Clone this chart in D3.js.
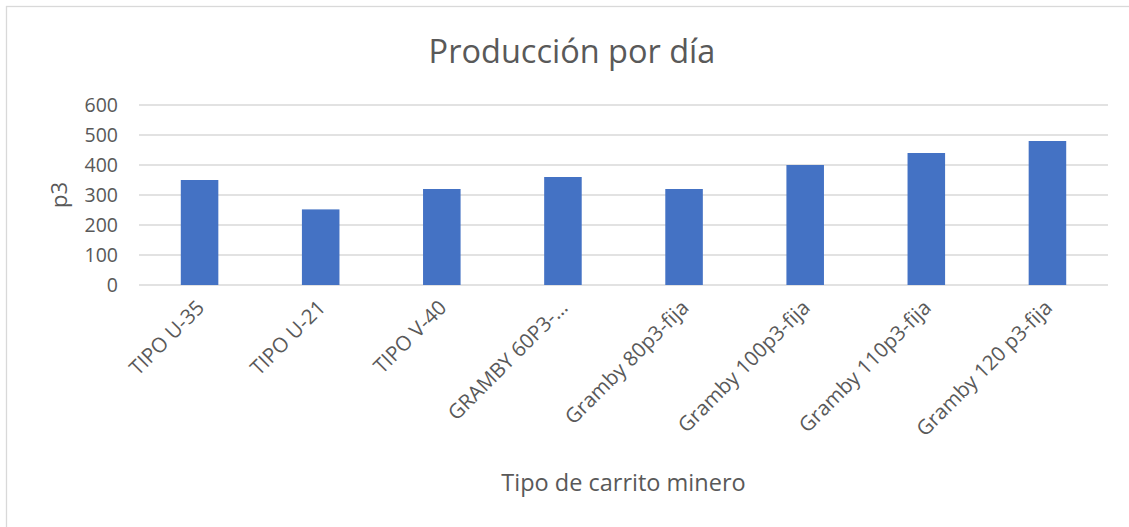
<!DOCTYPE html>
<html>
<head>
<meta charset="utf-8">
<script src="https://cdn.jsdelivr.net/npm/d3@7"></script>
<style>
    body { margin: 0; background: #fff; }
    svg { display: block; font-family: 'Open Sans', sans-serif; }
</style>
</head>
<body>
<div id="chart"></div>
<script>
// Chart data
const categories = ['TIPO U-35', 'TIPO U-21', 'TIPO V-40', 'GRAMBY 60P3-…',
    'Gramby 80p3-fija', 'Gramby 100p3-fija', 'Gramby 110p3-fija', 'Gramby 120 p3-fija'];
const values = [350, 252, 320, 360, 320, 400, 440, 480];
const yTicks = [0, 100, 200, 300, 400, 500, 600];

const W = 1129, H = 527;
const margin = {top: 105, right: 21, bottom: 242, left: 139};
const width = W - margin.left - margin.right;
const height = H - margin.top - margin.bottom;
const textColor = '#595959';

const svg = d3.select('#chart')
    .append('svg')
    .attr('width', W)
    .attr('height', H);

// Chart area border
svg.append('rect')
    .attr('x', 6.5)
    .attr('y', 6.5)
    .attr('width', W + 20)
    .attr('height', H + 20)
    .style('fill', 'none')
    .style('stroke', '#d9d9d9')
    .style('stroke-width', 1.3);

const g = svg.append('g')
    .attr('transform', `translate(${margin.left},${margin.top})`);

const xScale = d3.scaleBand()
    .domain(categories)
    .range([0, width])
    .paddingInner(0.69)
    .paddingOuter(0.345);

const yScale = d3.scaleLinear()
    .domain([0, 600])
    .range([height, 0]);

// Gridlines
g.selectAll('.grid')
    .data(yTicks)
    .enter().append('line')
    .attr('x1', 0)
    .attr('x2', width)
    .attr('y1', d => yScale(d))
    .attr('y2', d => yScale(d))
    .style('stroke', '#d9d9d9')
    .style('stroke-width', 1.3);

// Bars
g.selectAll('.bar')
    .data(values)
    .enter().append('rect')
    .attr('x', (d, i) => xScale(categories[i]))
    .attr('y', d => yScale(d))
    .attr('width', xScale.bandwidth())
    .attr('height', d => yScale(0) - yScale(d))
    .style('fill', '#4472c4');

// Y axis labels
const yAxis = g.append('g')
    .call(d3.axisLeft(yScale).tickValues(yTicks).tickSize(0).tickPadding(21));
yAxis.select('.domain').remove();
yAxis.selectAll('text')
    .style('font-size', '19.5px')
    .style('font-family', "'Open Sans', sans-serif")
    .style('fill', textColor);

// X axis labels (rotated)
g.selectAll('.xlabel')
    .data(categories)
    .enter().append('text')
    .attr('transform', d => `translate(${xScale(d) + xScale.bandwidth() / 2 + 6},${height + 24}) rotate(-45)`)
    .style('text-anchor', 'end')
    .style('font-size', '20.5px')
    .style('fill', textColor)
    .text(d => d);

// Title
svg.append('text')
    .attr('x', 572)
    .attr('y', 63)
    .style('text-anchor', 'middle')
    .style('font-size', '32.5px')
    .style('fill', textColor)
    .text('Producción por día');

// Axis titles
svg.append('text')
    .attr('transform', `translate(67, ${margin.top + height / 2}) rotate(-90)`)
    .style('text-anchor', 'middle')
    .style('font-size', '22px')
    .style('fill', textColor)
    .text('p3');

svg.append('text')
    .attr('x', margin.left + width / 2)
    .attr('y', 491)
    .style('text-anchor', 'middle')
    .style('font-size', '23.5px')
    .style('fill', textColor)
    .text('Tipo de carrito minero');
</script>
</body>
</html>
